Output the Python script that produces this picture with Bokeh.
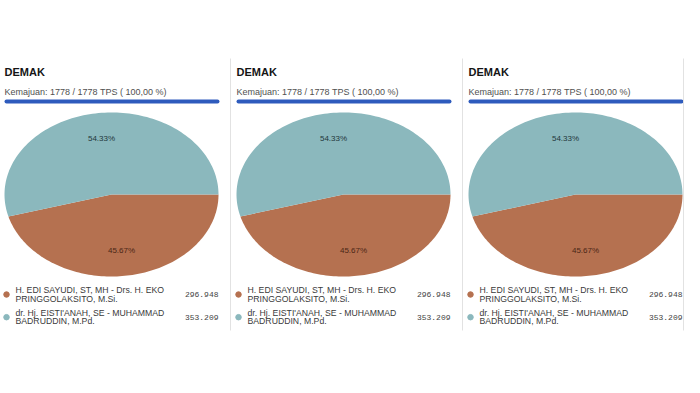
import numpy as np
from bokeh.plotting import figure
from bokeh.models import Range1d
from bokeh.core.properties import value
from bokeh.embed import file_html
from bokeh.resources import INLINE

# ---- data ----
region_titles = ["DEMAK", "DEMAK", "DEMAK"]
progress_labels = ["Kemajuan: 1778 / 1778 TPS ( 100,00 %)"] * 3
candidate_lines = [
    ["H. EDI SAYUDI, ST, MH - Drs. H. EKO", "PRINGGOLAKSITO, M.Si."],
    ["dr. Hj. EISTI'ANAH, SE - MUHAMMAD", "BADRUDDIN, M.Pd."],
]
votes = [296948, 353209]
vote_labels = ["296.948", "353.209"]
slice_colors = ["#b57150", "#8bb8bd"]
label_colors = ["#4a2616", "#22373b"]

# ---- layout (page pixel coords) ----
panel_offsets = [0, 232, 464]
cx0, cy, rx, ry = 111, 194, 107, 82

p = figure(width=684, height=377, output_backend="svg", toolbar_location=None,
           x_range=Range1d(0, 684), y_range=Range1d(377, 0), min_border=0,
           background_fill_color="white", border_fill_color="white")
p.axis.visible = False
p.grid.visible = False
p.outline_line_color = None

total = sum(votes)
fracs = [v / total for v in votes]

SANS = value("Liberation Sans")
for k, off in enumerate(panel_offsets):
    # title & progress
    p.text(x=[off + 4], y=[71], text=[region_titles[k]], text_font=SANS,
           text_font_size="11px", text_font_style="bold", text_color="#151515",
           text_baseline="middle", text_align="left")
    p.text(x=[off + 4], y=[91], text=[progress_labels[k]], text_font=SANS,
           text_font_size="9px", text_color="#505050",
           text_baseline="middle", text_align="left")
    p.line(x=[off + 6, off + 217], y=[101, 101], line_color="#2e5bbd",
           line_width=4, line_cap="round")

    # pie (ellipse) slices
    cx = cx0 + off
    start = 0.0
    for i, f in enumerate(fracs):
        end = start + 2 * np.pi * f
        th = np.linspace(start, end, 120)
        xs = np.concatenate([[cx], cx + rx * np.cos(th)])
        ys = np.concatenate([[cy], cy + ry * np.sin(th)])
        p.patch(x=xs, y=ys, fill_color=slice_colors[i], line_color=None)
        mid = (start + end) / 2
        p.text(x=[cx + 0.69 * rx * np.cos(mid)], y=[cy + 0.69 * ry * np.sin(mid)],
               text=[f"{f*100:.2f}%"], text_font=SANS, text_font_size="8px",
               text_color=label_colors[i], text_align="center", text_baseline="middle")
        start = end

    # legend
    for i in range(2):
        ly = 294 + i * 22.7
        p.scatter(x=[off + 6], y=[ly], size=5.5, color=slice_colors[i])
        p.text(x=[off + 15, off + 15], y=[ly - 4.6, ly + 4.2], text=candidate_lines[i],
               text_font=SANS, text_font_size="8.7px", text_color="#3a3a3a",
               text_baseline="middle", text_align="left")
        p.text(x=[off + 218], y=[ly], text=[vote_labels[i]],
               text_font=value("Liberation Mono"), text_font_size="8px",
               text_color="#444444", text_baseline="middle", text_align="right")

    # panel separator
    sx = min(off + 230, 683)
    p.line(x=[sx, sx], y=[58, 330], line_color="#e2e2e2", line_width=1)

open("out.html", "w").write(file_html(p, INLINE))
